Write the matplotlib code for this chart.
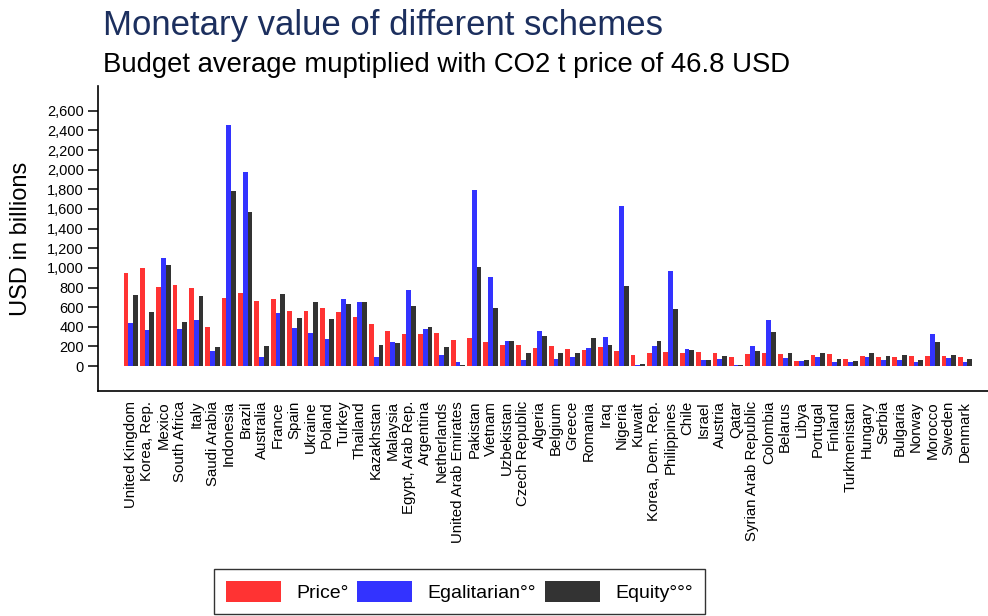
import numpy as np
import matplotlib
matplotlib.use("Agg")
import matplotlib.pyplot as plt
from matplotlib.ticker import FuncFormatter

plt.rcParams['font.family'] = ['Liberation Sans', 'DejaVu Sans']

countries = [
    "United Kingdom", "Korea, Rep.", "Mexico", "South Africa", "Italy",
    "Saudi Arabia", "Indonesia", "Brazil", "Australia", "France", "Spain",
    "Ukraine", "Poland", "Turkey", "Thailand", "Kazakhstan", "Malaysia",
    "Egypt, Arab Rep.", "Argentina", "Netherlands", "United Arab Emirates",
    "Pakistan", "Vietnam", "Uzbekistan", "Czech Republic", "Algeria",
    "Belgium", "Greece", "Romania", "Iraq", "Nigeria", "Kuwait",
    "Korea, Dem. Rep.", "Philippines", "Chile", "Israel", "Austria", "Qatar",
    "Syrian Arab Republic", "Colombia", "Belarus", "Libya", "Portugal",
    "Finland", "Turkmenistan", "Hungary", "Serbia", "Bulgaria", "Norway",
    "Morocco", "Sweden", "Denmark",
]

# USD billions
price = [947, 998, 801, 825, 798, 397, 693, 743, 665, 686, 557, 564, 591,
         550, 499, 428, 360, 329, 329, 336, 265, 285, 248, 214, 214, 183,
         204, 173, 163, 190, 153, 112, 136, 146, 132, 139, 132, 92, 122,
         132, 122, 51, 112, 119, 71, 102, 95, 92, 105, 102, 102, 92]
egalitarian = [438, 363, 1097, 380, 469, 156, 2451, 1972, 95, 540, 387, 333,
               278, 686, 648, 95, 244, 777, 377, 112, 41, 1789, 910, 255, 65,
               356, 71, 92, 183, 295, 1630, 7, 204, 968, 173, 61, 71, 7, 207,
               472, 81, 51, 92, 41, 41, 92, 61, 61, 41, 329, 81, 41]
equity = [723, 547, 1032, 448, 713, 194, 1782, 1572, 204, 730, 489, 655, 482,
          631, 652, 214, 234, 611, 394, 194, 10, 1008, 591, 255, 132, 309,
          132, 132, 285, 214, 815, 24, 258, 577, 163, 65, 102, 7, 153, 350,
          132, 61, 129, 71, 51, 132, 102, 112, 61, 248, 112, 71]

fig = plt.figure(figsize=(9.88, 6.16), dpi=100)
ax = fig.add_axes([0.0992, 0.365, 0.9008, 0.495])

x = np.arange(len(countries))
w = 0.293
ax.bar(x - w, price, w, color='#ff3333', label='Price°')
ax.bar(x, egalitarian, w, color='#3333ff', label='Egalitarian°°')
ax.bar(x + w, equity, w, color='#333333', label='Equity°°°')

ax.set_xlim(-2.0, 52.4)
ax.set_ylim(-255, 2850)
ax.set_yticks(np.arange(0, 2601, 200))
ax.yaxis.set_major_formatter(FuncFormatter(lambda v, p: f"{int(v):,}"))
ax.set_xticks(x)
ax.set_xticklabels(countries, rotation=90, fontsize=10.8, va='top', ha='center')
ax.tick_params(axis='x', length=0, pad=7)
ax.tick_params(axis='y', length=7, width=1.1, labelsize=10.5, pad=3)

for s in ['top', 'right']:
    ax.spines[s].set_visible(False)
for s in ['left', 'bottom']:
    ax.spines[s].set_linewidth(1.2)

ax.set_ylabel("USD in billions", fontsize=17)
ax.yaxis.set_label_coords(-0.074, 0.5)

fig.text(0.1043, 0.9432, "Monetary value of different schemes",
         fontsize=25, color='#1c2f5e', va='baseline', ha='left')
fig.text(0.1043, 0.883, "Budget average muptiplied with CO2 t price of 46.8 USD",
         fontsize=19.8, color='black', va='baseline', ha='left')

leg = fig.legend(loc='lower center', bbox_to_anchor=(0.465, 0.003), ncol=3,
                 fontsize=14, handlelength=2.83, handleheight=1.34,
                 handletextpad=0.8, columnspacing=0.45, borderpad=0.6,
                 borderaxespad=0, fancybox=False, frameon=True,
                 edgecolor='black')
leg.get_frame().set_linewidth(1.0)

fig.savefig("out.png", dpi=100)
